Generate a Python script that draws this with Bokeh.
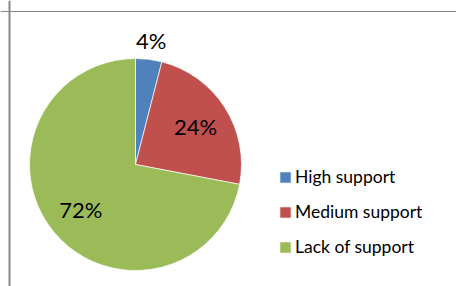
import math
from bokeh.plotting import figure
from bokeh.models import ColumnDataSource, Range1d, Span
from bokeh.core.properties import value
from bokeh.embed import file_html
from bokeh.resources import INLINE

categories = ["High support", "Medium support", "Lack of support"]
shares = [4, 24, 72]
colors = ["#4F81BD", "#C0504D", "#9BBB59"]

W, H = 456, 286
CX, CY, R = 135, 122, 106

total = sum(shares)
starts, ends, lx, ly, labels = [], [], [], [], []
a = math.pi / 2
for s in shares:
    sweep = 2 * math.pi * s / total
    starts.append(a - sweep)
    ends.append(a)
    mid = a - sweep / 2
    rf = 1.18 if s / total < 0.05 else 0.67
    lx.append(CX + rf * R * math.cos(mid))
    ly.append(CY + rf * R * math.sin(mid))
    labels.append(f"{s}%")
    a -= sweep

src = ColumnDataSource(dict(category=categories, share=shares, color=colors,
                            start=starts, end=ends, lx=lx, ly=ly, label=labels))

p = figure(width=W, height=H, output_backend="svg", toolbar_location=None,
           x_range=Range1d(0, W), y_range=Range1d(0, H), min_border=0)
p.axis.visible = False
p.grid.visible = False
p.outline_line_color = None
p.background_fill_color = "white"
p.border_fill_color = "white"

p.wedge(x=CX, y=CY, radius=R, start_angle="start", end_angle="end",
        fill_color="color", line_color="white", line_width=0.7,
        legend_field="category", source=src)
p.text(x="lx", y="ly", text="label", source=src, text_align="center",
       text_baseline="middle", text_font=value("Lato"), text_font_size="22px",
       text_color="black")

lg = p.legend[0]
lg.location = (278, 29)
lg.glyph_width = 14
lg.glyph_height = 14
lg.label_height = 21
lg.spacing = 14
lg.padding = 0
lg.margin = 0
lg.label_standoff = 3
lg.label_text_font = "Lato"
lg.label_text_font_size = "17.5px"
lg.label_text_color = "black"
lg.border_line_color = None
lg.background_fill_alpha = 0

p.add_layout(Span(location=9, dimension="height",
                  line_color="#888888", line_width=2))
p.add_layout(Span(location=H - 11, dimension="width",
                  line_color="#888888", line_width=1))

open("out.html", "w").write(file_html(p, INLINE))
